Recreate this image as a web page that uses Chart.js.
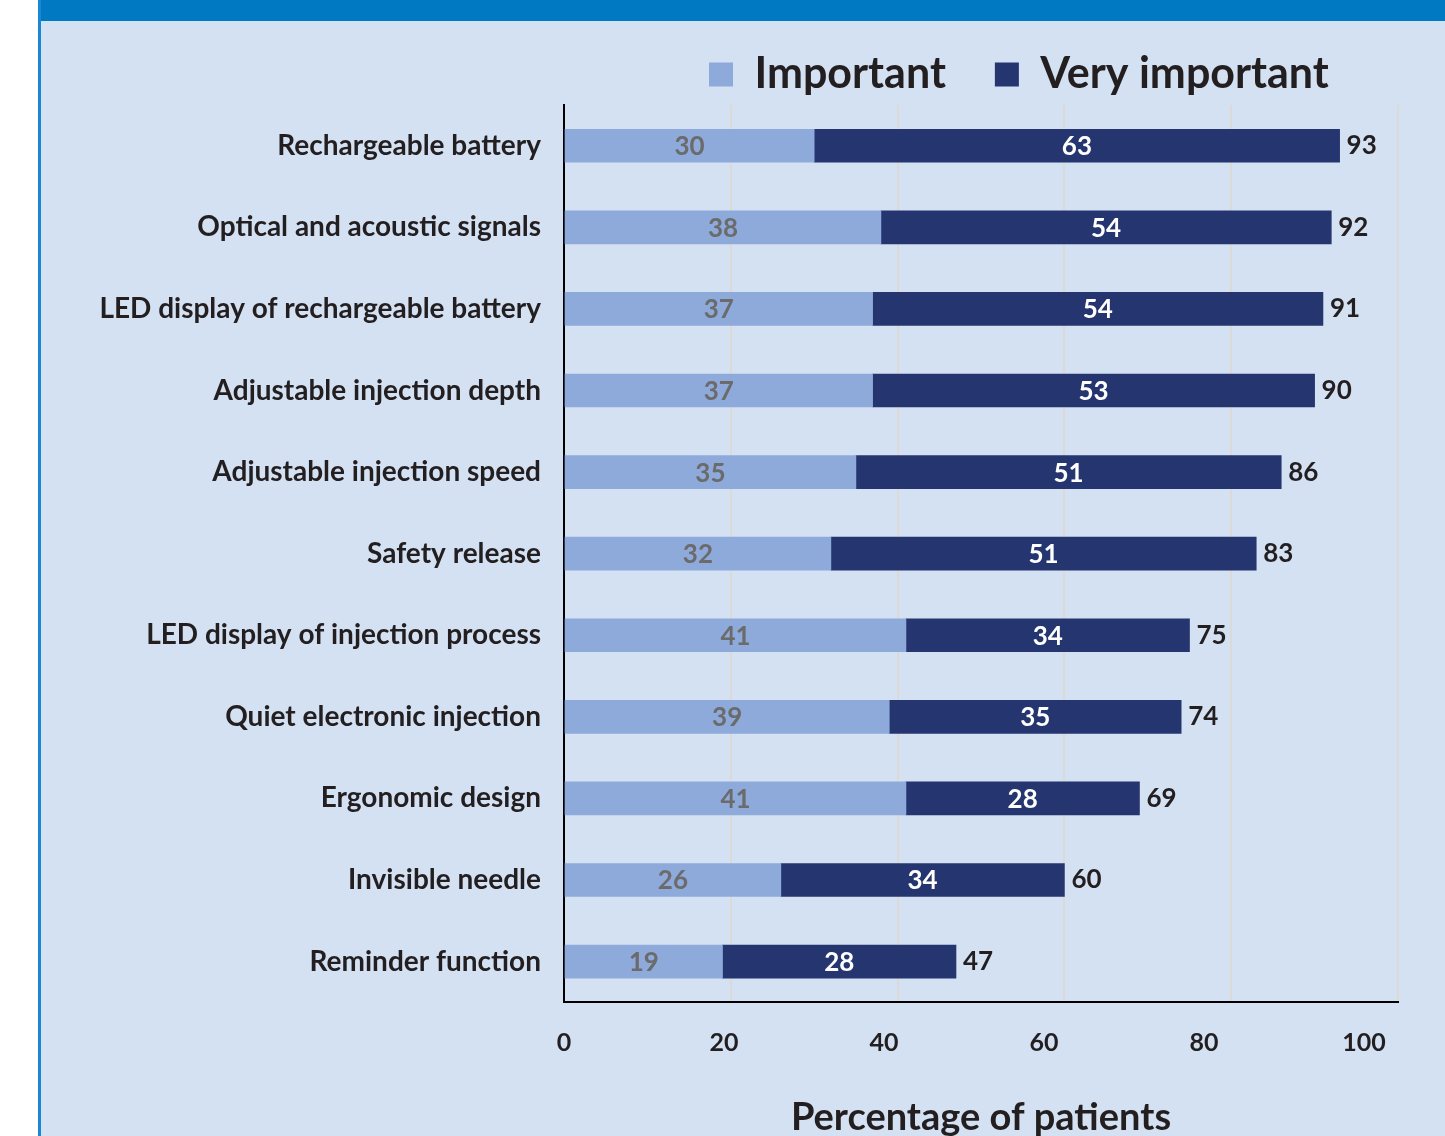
<!DOCTYPE html>
<html><head><meta charset="utf-8">
<script src="https://cdn.jsdelivr.net/npm/chart.js@4.4.1/dist/chart.umd.min.js"></script>
<style>
html,body{margin:0;padding:0;width:1445px;height:1136px;overflow:hidden;background:#ffffff;}
#banner{position:absolute;left:39px;top:0;width:1406px;height:21px;background:#0079c2;}
#panel{position:absolute;left:41px;top:21px;width:1404px;height:1115px;background:#d4e1f2;}
#edge{position:absolute;left:38px;top:0;width:3px;height:1136px;background:#1a87d6;}
#wrap{position:absolute;left:41px;top:21px;width:1404px;height:1120px;}
</style></head>
<body>
<div id="banner"></div><div id="panel"></div><div id="edge"></div>
<div id="wrap"><canvas id="c"></canvas></div>
<script>
const categories = [
  'Rechargeable battery',
  'Optical and acoustic signals',
  'LED display of rechargeable battery',
  'Adjustable injection depth',
  'Adjustable injection speed',
  'Safety release',
  'LED display of injection process',
  'Quiet electronic injection',
  'Ergonomic design',
  'Invisible needle',
  'Reminder function'
];
const important     = [30, 38, 37, 37, 35, 32, 41, 39, 41, 26, 19];
const veryImportant = [63, 54, 54, 53, 51, 51, 34, 35, 28, 34, 28];
const seriesNames = ['Important', 'Very important'];
const xTickValues = [0, 20, 40, 60, 80, 100];
const axisTitle = 'Percentage of patients';

const FONT = 'Lato';
const barColors = ['#8eaadb', '#243570'];
const labelColors = ['#6b6b6b', '#ffffff'];
const textColor = '#231f20';

const valueLabels = {
  id: 'valueLabels',
  afterDatasetsDraw(chart) {
    const ctx = chart.ctx;
    ctx.save();
    ctx.font = 'bold 26px ' + FONT;
    ctx.textBaseline = 'middle';
    chart.data.datasets.forEach((ds, di) => {
      const meta = chart.getDatasetMeta(di);
      meta.data.forEach((bar, i) => {
        const p = bar.getProps(['x', 'base', 'y'], true);
        ctx.fillStyle = labelColors[di];
        ctx.textAlign = 'center';
        ctx.fillText(String(ds.data[i]), (p.x + p.base) / 2, p.y + 1);
      });
    });
    const last = chart.getDatasetMeta(chart.data.datasets.length - 1);
    last.data.forEach((bar, i) => {
      const total = chart.data.datasets.reduce((s, d) => s + d.data[i], 0);
      const p = bar.getProps(['x', 'y'], true);
      ctx.fillStyle = textColor;
      ctx.textAlign = 'left';
      ctx.fillText(String(total), p.x + 7, p.y);
    });
    ctx.restore();
  }
};

const legendPlace = {
  id: 'legendPlace',
  afterLayout(chart) {
    const lg = chart.legend;
    if (!lg) return;
    const w = lg.width;
    lg.left = 619; lg.right = 619 + w;
    lg.top = -17; lg.height = 102; lg.bottom = lg.top + lg.height;
  }
};

new Chart(document.getElementById('c'), {
  type: 'bar',
  data: {
    labels: categories,
    datasets: [
      { label: seriesNames[0], data: important, backgroundColor: barColors[0], borderWidth: 0, barThickness: 33 },
      { label: seriesNames[1], data: veryImportant, backgroundColor: barColors[1], borderWidth: 0, barThickness: 33 }
    ]
  },
  options: {
    indexAxis: 'y',
    responsive: true,
    maintainAspectRatio: false,
    animation: false,
    layout: { padding: { left: 0, right: 47, top: 24, bottom: 0 } },
    plugins: {
      legend: {
        display: true, position: 'top', align: 'start', maxHeight: 60,
        labels: {
          font: { family: FONT, weight: 'bold', size: 43 },
          color: textColor, boxWidth: 24, boxHeight: 24, padding: 49
        }
      },
      tooltip: { enabled: false }
    },
    scales: {
      x: {
        type: 'linear', position: 'bottom', stacked: true, min: 0, max: 100, weight: 0,
        afterBuildTicks(s) { s.ticks = xTickValues.map(v => ({ value: v })); },
        grid: { color: '#dcdad6', lineWidth: 2, drawTicks: true, tickLength: 26, tickColor: 'rgba(0,0,0,0)' },
        border: { display: true, color: '#000000', width: 2 },
        ticks: { display: false }
      },
      x2: {
        type: 'linear', position: 'bottom', min: 0, max: 104.25, weight: 1,
        afterBuildTicks(s) { s.ticks = xTickValues.map(v => ({ value: v })); },
        grid: { display: false, drawTicks: false },
        border: { display: false },
        ticks: { padding: 0, autoSkip: false, maxRotation: 0, color: textColor,
                 font: { family: FONT, weight: 'bold', size: 25 } },
        title: { display: true, text: axisTitle, color: textColor,
                 font: { family: FONT, weight: 'bold', size: 38 }, padding: { top: 37, bottom: 0 } }
      },
      y: {
        stacked: true,
        afterFit(s) { s.width = 523; },
        grid: { display: false, drawTicks: false },
        border: { display: true, color: '#000000', width: 2 },
        ticks: { padding: 23, autoSkip: false, color: textColor,
                 font: { family: FONT, weight: 'bold', size: 28 } }
      }
    }
  },
  plugins: [valueLabels, legendPlace]
});
</script>
</body></html>
